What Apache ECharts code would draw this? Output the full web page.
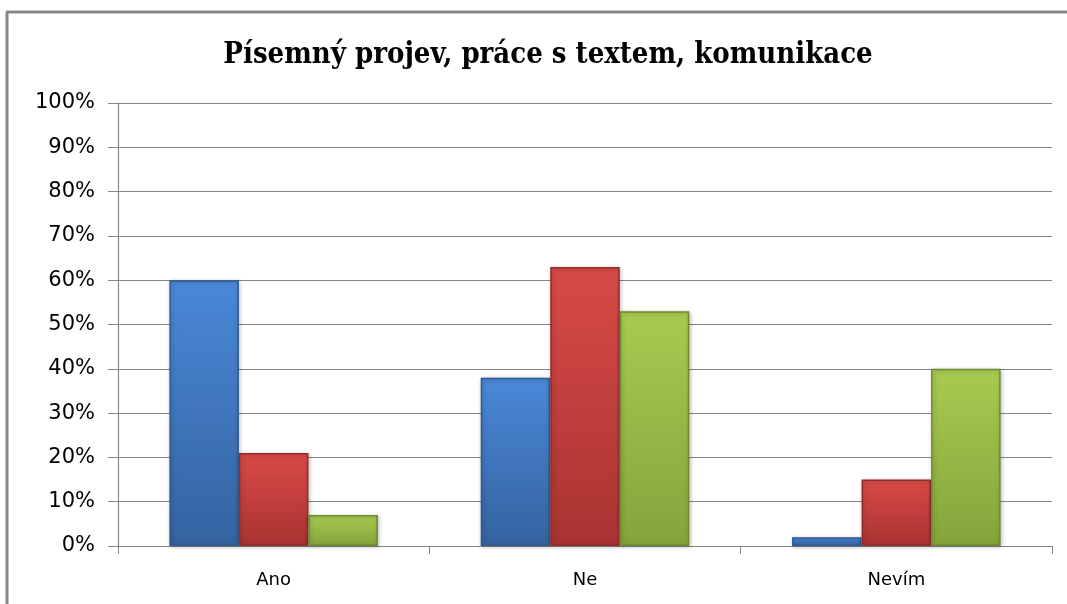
<!DOCTYPE html>
<html>
<head>
<meta charset="utf-8">
<script src="https://cdn.jsdelivr.net/npm/echarts@6/dist/echarts.min.js"></script>
<style>
  html, body { margin: 0; padding: 0; background: #fff; }
  #chart { width: 1067px; height: 604px; }
</style>
</head>
<body>
<div id="chart"></div>
<script>
  // hodnoty v procentech
  const categories = ["Ano", "Ne", "Nevím"];
  const blueValues = [60, 38, 2];
  const redValues = [21, 63, 15];
  const greenValues = [7, 53, 40];
  const yTicks = [0, 10, 20, 30, 40, 50, 60, 70, 80, 90, 100];

  const chart = echarts.init(document.getElementById("chart"));

  function barStyle(top, bottom, border) {
    return {
      color: new echarts.graphic.LinearGradient(0, 0, 0, 1, [
        { offset: 0, color: top },
        { offset: 1, color: bottom }
      ]),
      borderColor: border,
      borderWidth: 1.5,
      shadowColor: "rgba(0,0,0,0.25)",
      shadowBlur: 4,
      shadowOffsetX: 1,
      shadowOffsetY: 1
    };
  }

  const option = {
    animation: false,
    title: {
      text: "Písemný projev, práce s textem, komunikace",
      left: 543,
      textAlign: "center",
      top: 36,
      textStyle: { fontFamily: "DejaVu Serif Condensed", fontWeight: "bold", fontSize: 29, color: "#000" }
    },
    graphic: [
      { type: "line", shape: { x1: 7, y1: 12, x2: 7, y2: 604 }, style: { stroke: "#878787", lineWidth: 3 } },
      { type: "line", shape: { x1: 6, y1: 12, x2: 1067, y2: 12 }, style: { stroke: "#878787", lineWidth: 3 } }
    ],
    grid: { left: 118, right: 15, top: 103, bottom: 58 },
    xAxis: {
      type: "category",
      data: categories,
      axisLine: { lineStyle: { color: "#868686", width: 1.2 } },
      axisTick: { show: true, length: 8, lineStyle: { color: "#868686" } },
      axisLabel: { fontFamily: "DejaVu Sans", fontSize: 18, color: "#000", margin: 25 }
    },
    yAxis: {
      type: "value",
      min: yTicks[0],
      max: yTicks[yTicks.length - 1],
      interval: 10,
      axisLine: { show: true, lineStyle: { color: "#868686", width: 1.2 } },
      axisTick: { show: true, length: 10, lineStyle: { color: "#868686" } },
      splitLine: { lineStyle: { color: "#868686", width: 1.2 } },
      axisLabel: { formatter: "{value}%", fontFamily: "DejaVu Sans", fontSize: 21, color: "#000", margin: 23 }
    },
    series: [
      { name: "A", type: "bar", data: blueValues, barGap: "0%", barCategoryGap: "33%",
        itemStyle: barStyle("#4a88d8", "#34639f", "#2d5a92") },
      { name: "B", type: "bar", data: redValues, barGap: "0%", barCategoryGap: "33%",
        itemStyle: barStyle("#d84a47", "#a93331", "#922c2a") },
      { name: "C", type: "bar", data: greenValues, barGap: "0%", barCategoryGap: "33%",
        itemStyle: barStyle("#a6cb50", "#84a43b", "#6f8a31") }
    ]
  };

  chart.setOption(option);
  window.addEventListener("resize", () => chart.resize());
</script>
</body>
</html>
